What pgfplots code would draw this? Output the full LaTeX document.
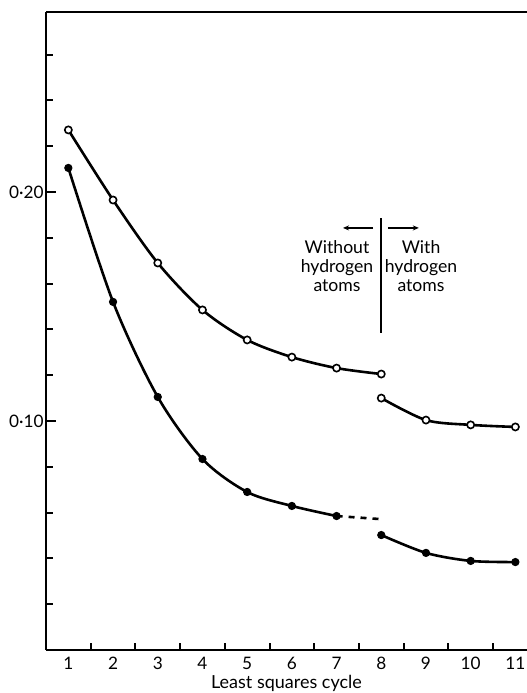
\documentclass[border=0pt]{standalone}
\usepackage{fontspec}
\setmainfont{Lato}
\usepackage{pgfplots}
\pgfplotsset{compat=1.18}
\usetikzlibrary{arrows.meta}
\begin{document}
\begin{tikzpicture}
\begin{axis}[
  scale only axis, width=240.5pt, height=319pt,
  xmin=0.5, xmax=11.26, ymin=0, ymax=0.2786,
  separate axis lines,
  axis x line=box, axis y line=left,
  axis line style={line width=1.2pt, -},
  xtick={1,2,3,4,5,6,7,8,9,10,11},
  xticklabels={1,2,3,4,5,6,7,8,9,10,11},
  minor xtick={1.5,2.5,3.5,4.5,5.5,6.5,7.5,8.5,9.5,10.5},
  ytick={0.1,0.2}, yticklabels={0·10,0·20},
  minor ytick={0.02,0.04,0.06,0.08,0.12,0.14,0.16,0.18,0.22,0.24,0.26},
  tick align=inside,
  xtick pos=bottom, ytick pos=left,
  major tick length=5pt, minor tick length=3.5pt,
  tick style={line width=1pt, black},
  major x tick style={draw=none},
  ticklabel style={font=\fontsize{8.6}{10}\selectfont},
  yticklabel style={xshift=2.3pt},
  xlabel={Least squares cycle},
  xlabel style={font=\fontsize{9}{10}\selectfont, at={(axis description cs:0.5,0)}, anchor=base, yshift=-19.3pt},
]
\addplot[black, line width=1.3pt, smooth, mark=*, mark size=1.8pt, mark options={fill=white, line width=0.8pt}]
  coordinates {(1,0.2271)(2,0.1965)(3,0.1690)(4,0.1485)(5,0.1354)(6,0.1279)(7,0.1231)(8,0.1205)};
\addplot[black, line width=1.3pt, smooth, mark=*, mark size=1.8pt, mark options={fill=white, line width=0.8pt}]
  coordinates {(8,0.1100)(9,0.1004)(10,0.0983)(11,0.0974)};
\addplot[black, line width=1.3pt, smooth, mark=*, mark size=1.8pt, mark options={fill=black, line width=0.5pt}]
  coordinates {(1,0.2105)(2,0.1520)(3,0.1105)(4,0.0834)(5,0.0690)(6,0.0629)(7,0.0585)};
\addplot[black, line width=1.3pt, dashed, no marks]
  coordinates {(7,0.0585)(7.95,0.0572)};
\addplot[black, line width=1.3pt, smooth, mark=*, mark size=1.8pt, mark options={fill=black, line width=0.5pt}]
  coordinates {(8,0.0502)(9,0.0424)(10,0.0389)(11,0.0384)};
\draw[line width=0.9pt] (axis cs:8,0.1886) -- (axis cs:8,0.1384);
\draw[line width=0.8pt, -{Stealth[length=3pt,width=2.5pt]}] (axis cs:7.815,0.1843) -- (axis cs:7.144,0.1843);
\draw[line width=0.8pt, -{Stealth[length=3pt,width=2.5pt]}] (axis cs:8.15,0.1843) -- (axis cs:8.84,0.1843);
\node[anchor=north, inner sep=0pt, align=center, font=\fontsize{8.8}{9.5}\selectfont] at (axis cs:7.01,0.1790) {Without\\hydrogen\\atoms};
\node[anchor=north, inner sep=0pt, align=center, font=\fontsize{8.8}{9.5}\selectfont] at (axis cs:8.89,0.1790) {With\\hydrogen\\atoms};
\end{axis}
\pgfresetboundingbox
\path ([shift={(-23pt,-21.5pt)}]current axis.south west) rectangle ([shift={(0pt,6pt)}]current axis.north east);
\end{tikzpicture}
\end{document}
